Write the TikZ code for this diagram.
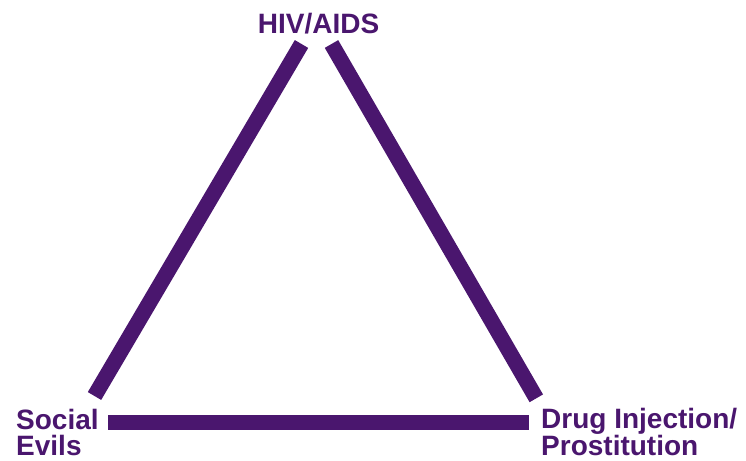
\documentclass[tikz,border=0pt]{standalone}
\usepackage{fontspec}
\setmainfont{Liberation Sans}
\usetikzlibrary{positioning}
\definecolor{triviolet}{RGB}{74,22,110}

\begin{document}
\begin{tikzpicture}[
  x=1pt, y=-1pt,
  every node/.style={font=\fontsize{28}{26}\selectfont\bfseries, text=triviolet, inner sep=0pt},
  corner/.style={align=left, anchor=base west},
  bar/.style={draw=triviolet, line width=15.5pt},
]
  \useasboundingbox (0,0) rectangle (746,460);
  % the three corners
  \node[anchor=base] (hiv) at (318.5,33.3) {HIV/AIDS};
  \node[corner] (social) at (16,455.7) {Social\\Evils};
  \node[corner] (drug) at (541,455.7) {Drug Injection/\\Prostitution};
  % bar ends
  \coordinate (hivL) at (301.5,44);
  \coordinate (hivR) at (331.5,44);
  \coordinate (socT) at (94.5,396);
  \coordinate (socR) at (108.3,422.7);
  \coordinate (drugT) at (536.3,398.3);
  \coordinate (drugL) at (529.3,422.7);
  \draw[bar] (hivL) -- (socT);
  \draw[bar] (hivR) -- (drugT);
  \draw[bar] (socR) -- (drugL);
\end{tikzpicture}
\end{document}
